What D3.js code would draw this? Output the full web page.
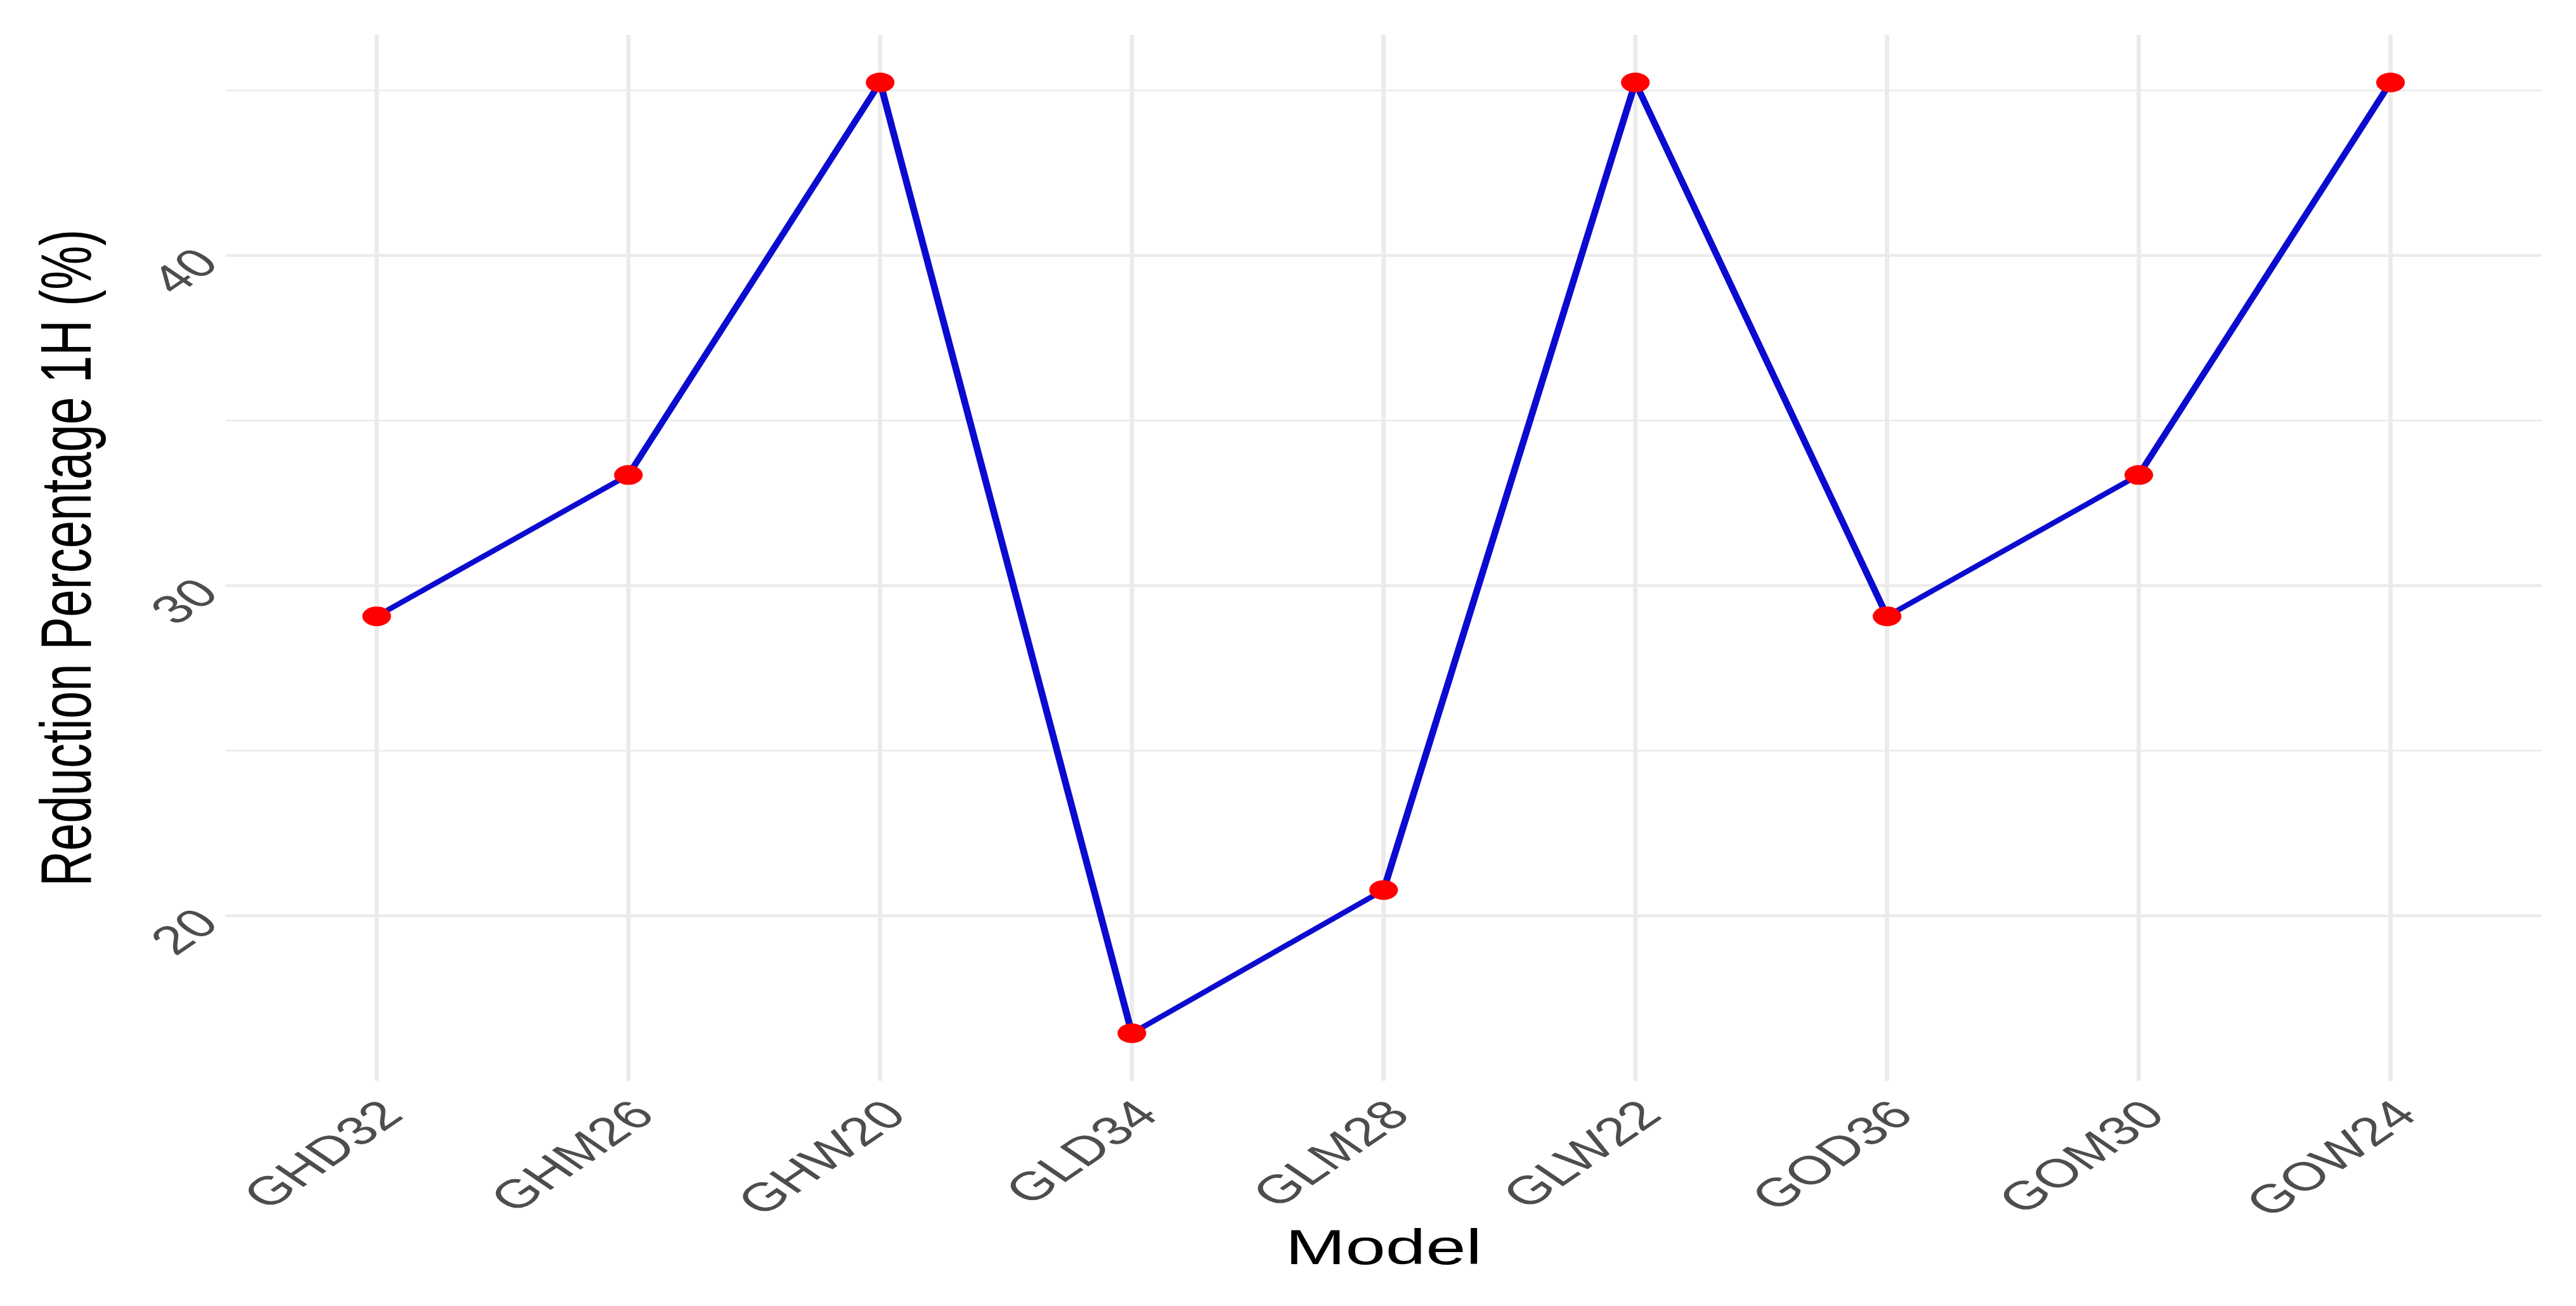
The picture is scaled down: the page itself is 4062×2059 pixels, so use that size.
<!DOCTYPE html>
<html>
<head>
<meta charset="utf-8">
<script src="https://cdn.jsdelivr.net/npm/d3@7"></script>
<style>
  html, body { margin: 0; padding: 0; background: #ffffff; }
  svg { display: block; }
</style>
</head>
<body>
<script>
// ---- data ----
const models = ["GHD32", "GHM26", "GHW20", "GLD34", "GLM28", "GLW22", "GOD36", "GOM30", "GOW24"];
const reduction = [29.07, 33.35, 45.24, 16.44, 20.78, 45.24, 29.07, 33.35, 45.24];
const yMajorTicks = [20, 30, 40];
const yMinorTicks = [25, 35, 45];
const xTitle = "Model";
const yTitle = "Reduction Percentage 1H (%)";

// ---- layout ----
const WIDTH = 4062, HEIGHT = 2059;
const SX = 1.46;                 // horizontal stretch of the original image
const panel = { left: 243.7, right: 2745, top: 55, bottom: 1704 };
const tickFont = 63, titleFont = 78;

const svg = d3.select("body").append("svg")
  .attr("width", WIDTH).attr("height", HEIGHT);
svg.append("rect").attr("width", WIDTH).attr("height", HEIGHT).attr("fill", "#ffffff");

const g = svg.append("g").attr("transform", `scale(${SX},1)`);

const x = d3.scalePoint().domain(models).range([panel.left, panel.right]).padding(0.6);
const ext = d3.extent(reduction);
const pad = (ext[1] - ext[0]) * 0.05;
const y = d3.scaleLinear().domain([ext[0] - pad, ext[1] + pad]).range([panel.bottom, panel.top]);

// minor grid
g.append("g").selectAll("line").data(yMinorTicks).join("line")
  .attr("x1", panel.left).attr("x2", panel.right)
  .attr("y1", d => y(d)).attr("y2", d => y(d))
  .attr("stroke", "#EBEBEB").attr("stroke-width", 2.4);

// major grid horizontal
g.append("g").selectAll("line").data(yMajorTicks).join("line")
  .attr("x1", panel.left).attr("x2", panel.right)
  .attr("y1", d => y(d)).attr("y2", d => y(d))
  .attr("stroke", "#EBEBEB").attr("stroke-width", 4.6);

// major grid vertical
g.append("g").selectAll("line").data(models).join("line")
  .attr("x1", d => x(d)).attr("x2", d => x(d))
  .attr("y1", panel.top).attr("y2", panel.bottom)
  .attr("stroke", "#EBEBEB").attr("stroke-width", 4.6);

// line
const pts = models.map((m, i) => [m, reduction[i]]);
g.append("path")
  .datum(pts)
  .attr("d", d3.line().x(d => x(d[0])).y(d => y(d[1])))
  .attr("fill", "none")
  .attr("stroke", "#0b0bd0")
  .attr("stroke-width", 7.5)
  .attr("stroke-linejoin", "round");

// points
g.append("g").selectAll("circle").data(pts).join("circle")
  .attr("cx", d => x(d[0])).attr("cy", d => y(d[1]))
  .attr("r", 15.5).attr("fill", "#ff0000");

// y tick labels (rotated 45)
g.append("g").selectAll("text").data(yMajorTicks).join("text")
  .attr("transform", d => `translate(${panel.left - 20},${y(d)}) rotate(-45)`)
  .attr("text-anchor", "end")
  .attr("dominant-baseline", "central")
  .attr("font-family", "Liberation Sans, Arial, Helvetica, sans-serif")
  .attr("font-size", tickFont)
  .attr("fill", "#4D4D4D")
  .text(d => d);

// x tick labels (rotated 45)
g.append("g").selectAll("text").data(models).join("text")
  .attr("transform", d => `translate(${x(d) + 0.25 * tickFont},${1730 + 0.25 * tickFont}) rotate(-45)`)
  .attr("text-anchor", "end")
  .attr("dominant-baseline", "central")
  .attr("font-family", "Liberation Sans, Arial, Helvetica, sans-serif")
  .attr("font-size", tickFont)
  .attr("fill", "#4D4D4D")
  .text(d => d);

// axis titles
g.append("text")
  .attr("x", (panel.left + panel.right) / 2).attr("y", 1993)
  .attr("text-anchor", "middle")
  .attr("font-family", "Liberation Sans, Arial, Helvetica, sans-serif")
  .attr("font-size", titleFont)
  .attr("fill", "#000000")
  .text(xTitle);

g.append("text")
  .attr("transform", `translate(98,${(panel.top + panel.bottom) / 2}) rotate(-90)`)
  .attr("text-anchor", "middle")
  .attr("font-family", "Liberation Sans, Arial, Helvetica, sans-serif")
  .attr("font-size", titleFont)
  .attr("fill", "#000000")
  .text(yTitle);
</script>
</body>
</html>
